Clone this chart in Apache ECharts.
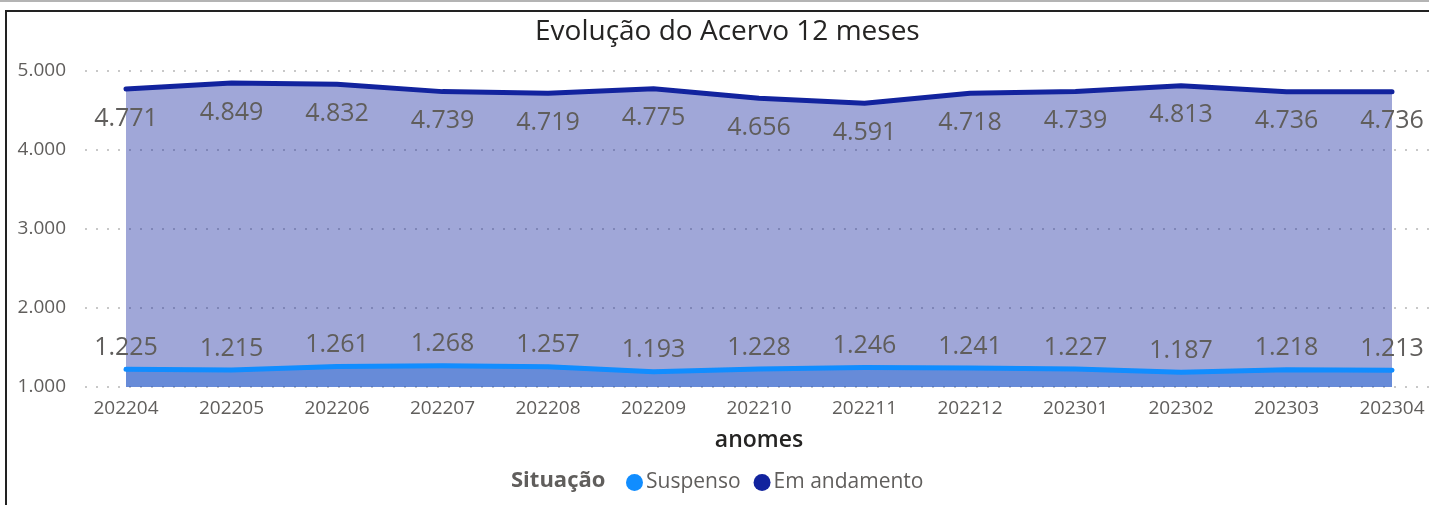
<!DOCTYPE html>
<html>
<head>
<meta charset="utf-8">
<script src="https://cdn.jsdelivr.net/npm/echarts@6/dist/echarts.min.js"></script>
<style>
  html, body { margin: 0; padding: 0; background: #fff; }
  #main { width: 1429px; height: 505px; }
  .topline { position: absolute; left: 0; top: 0; width: 1429px; height: 2px; background: #b4b4b4; }
  .frame { position: absolute; left: 5px; top: 10px; width: 1430px; height: 500px;
           border-top: 2px solid #222; border-left: 2px solid #222; pointer-events: none; }
</style>
</head>
<body>
<div id="main"></div>
<div class="topline"></div>
<div class="frame"></div>
<script>
// dados
const categorias = ["202204", "202205", "202206", "202207", "202208", "202209", "202210",
  "202211", "202212", "202301", "202302", "202303", "202304"];
const suspenso = [1225, 1215, 1261, 1268, 1257, 1193, 1228, 1246, 1241, 1227, 1187, 1218, 1213];
const emAndamento = [4771, 4849, 4832, 4739, 4719, 4775, 4656, 4591, 4718, 4739, 4813, 4736, 4736];
const yTicks = [1000, 2000, 3000, 4000, 5000];

const COR_SUSP = "#118DFF";
const COR_ANDA = "#12239E";
const FONTE = "'Open Sans', 'Noto Sans', sans-serif";

// separador de milhar pt-BR
const fmt = (v) => String(v).replace(/\B(?=(\d{3})+(?!\d))/g, ".");

const myChart = echarts.init(document.getElementById("main"), null, { renderer: "canvas" });

const yBase = {
  type: "value",
  min: yTicks[0],
  max: yTicks[yTicks.length - 1],
  interval: 1000,
};

myChart.setOption({
  animation: false,
  textStyle: { fontFamily: FONTE },
  title: {
    text: "Evolução do Acervo 12 meses",
    left: 530,
    top: 13,
    textStyle: { fontFamily: FONTE, fontSize: 28, fontWeight: "normal", color: "#252423" },
  },
  graphic: [
    {
      type: "text",
      left: 511,
      top: 470,
      style: { text: "Situação", font: "bold 22px " + FONTE, fill: "#605E5C" },
    },
  ],
  legend: {
    left: 621,
    top: 467,
    icon: "circle",
    itemWidth: 17,
    itemHeight: 17,
    itemGap: 13,
    data: [
      { name: "Suspenso", itemStyle: { color: COR_SUSP } },
      { name: "Em andamento", itemStyle: { color: COR_ANDA } },
    ],
    textStyle: { fontFamily: FONTE, fontSize: 21, color: "#605E5C", padding: [0, 0, 0, -2] },
  },
  // grade 0: só as linhas pontilhadas e rótulos do eixo y
  // grade 1: os dados
  grid: [
    { left: 85, right: 0, top: 71, height: 316 },
    { left: 126, right: 37, top: 71, height: 316 },
  ],
  xAxis: [
    { gridIndex: 0, type: "category", data: categorias, show: false },
    {
      gridIndex: 1,
      type: "category",
      data: categorias,
      boundaryGap: false,
      axisLine: { show: false },
      axisTick: { show: false },
      axisLabel: { fontSize: 19, color: "#605E5C", margin: 12 },
      name: "anomes",
      nameLocation: "middle",
      nameGap: 42,
      nameTextStyle: { fontSize: 23, fontWeight: 600, color: "#252423" },
    },
  ],
  yAxis: [
    {
      ...yBase,
      gridIndex: 0,
      axisLine: { show: false },
      axisTick: { show: false },
      axisLabel: { fontSize: 19, color: "#605E5C", margin: 19, formatter: (v) => fmt(v) },
      splitLine: { lineStyle: { color: "#c8c8c8", width: 2, type: [2, 9] } },
    },
    { ...yBase, gridIndex: 1, show: false, splitLine: { show: false } },
  ],
  series: [
    // áreas (Em andamento por cima de Suspenso)
    {
      name: "Suspenso",
      type: "line",
      xAxisIndex: 1,
      yAxisIndex: 1,
      data: suspenso,
      symbol: "none",
      lineStyle: { width: 0 },
      itemStyle: { color: COR_SUSP },
      areaStyle: { color: COR_SUSP, opacity: 0.4, origin: "start" },
      z: 2,
    },
    {
      name: "Em andamento",
      type: "line",
      xAxisIndex: 1,
      yAxisIndex: 1,
      data: emAndamento,
      symbol: "none",
      lineStyle: { width: 0 },
      itemStyle: { color: COR_ANDA },
      areaStyle: { color: COR_ANDA, opacity: 0.4, origin: "start" },
      z: 3,
    },
    // linhas + rótulos
    {
      name: "Suspenso",
      type: "line",
      xAxisIndex: 1,
      yAxisIndex: 1,
      data: suspenso,
      symbol: "circle",
      symbolSize: 0,
      showSymbol: true,
      itemStyle: { color: COR_SUSP },
      lineStyle: { width: 5, color: COR_SUSP, cap: "round", join: "round" },
      label: {
        show: true,
        position: "top",
        distance: 9,
        fontSize: 25,
        color: "#605E5C",
        formatter: (p) => fmt(p.value),
      },
      z: 5,
    },
    {
      name: "Em andamento",
      type: "line",
      xAxisIndex: 1,
      yAxisIndex: 1,
      data: emAndamento,
      symbol: "circle",
      symbolSize: 0,
      showSymbol: true,
      itemStyle: { color: COR_ANDA },
      lineStyle: { width: 5, color: COR_ANDA, cap: "round", join: "round" },
      label: {
        show: true,
        position: "bottom",
        distance: 17,
        fontSize: 25,
        color: "#605E5C",
        formatter: (p) => fmt(p.value),
      },
      z: 5,
    },
  ],
});
</script>
</body>
</html>
